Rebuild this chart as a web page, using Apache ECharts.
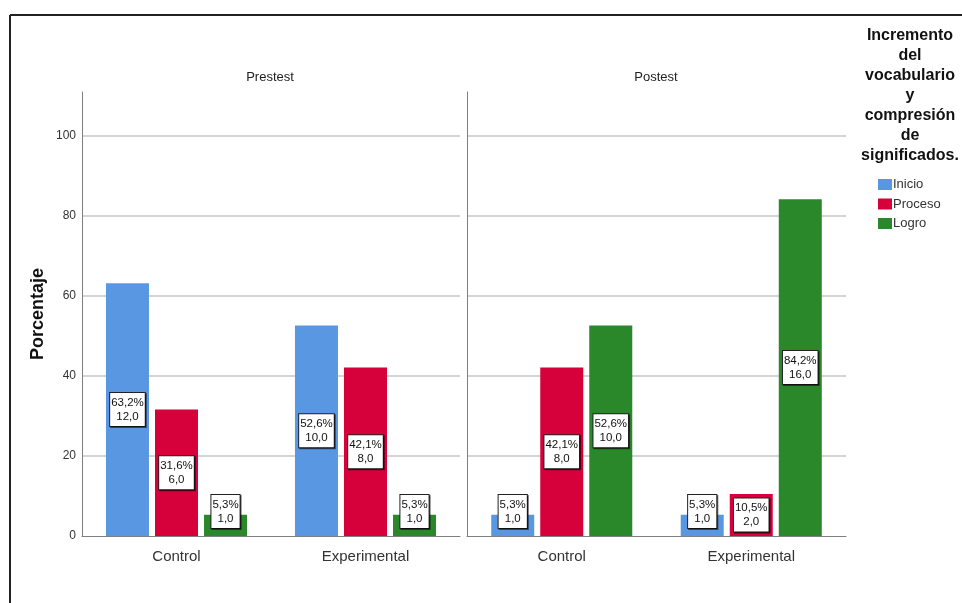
<!DOCTYPE html>
<html>
<head>
<meta charset="utf-8">
<script src="https://cdn.jsdelivr.net/npm/echarts@6/dist/echarts.min.js"></script>
<style>
html,body{margin:0;padding:0;background:#fff;}
#chart{width:962px;height:603px;}
</style>
</head>
<body>
<div id="chart"></div>
<script>
// ---- data ----
const categories = ['Control', 'Experimental'];
const panels = ['Prestest', 'Postest'];
const levels = ['Inicio', 'Proceso', 'Logro'];
const yTicks = [0, 20, 40, 60, 80, 100];

// Percentages
const preInicio = [63.2, 52.6];
const preProceso = [31.6, 42.1];
const preLogro = [5.3, 5.3];
const postInicio = [5.3, 5.3];
const postProceso = [42.1, 10.5];
const postLogro = [52.6, 84.2];

// Counts
const preInicioN = [12, 10];
const preProcesoN = [6, 8];
const preLogroN = [1, 1];
const postInicioN = [1, 1];
const postProcesoN = [8, 2];
const postLogroN = [10, 16];

const legendTitle = 'Incremento\ndel\nvocabulario\ny\ncompresión\nde\nsignificados.';

const colors = ['#5A97E3', '#D6003A', '#2A872A'];
const SANS = "'Liberation Sans',Arial,sans-serif";

function fmt(v) { return v.toFixed(1).replace('.', ','); }

function makeSeries(name, pct, counts, idx, colorIdx) {
  return {
    type: 'bar',
    name: name,
    xAxisIndex: idx,
    yAxisIndex: idx,
    barWidth: 43,
    barGap: '14%',
    itemStyle: { color: colors[colorIdx] },
    data: pct.map(function (v) {
      return { value: v, label: { offset: v < 8 ? [0, -14] : [0, 0] } };
    }),
    label: {
      show: true,
      position: 'inside',
      align: 'center',
      verticalAlign: 'middle',
      fontFamily: SANS,
      fontSize: 11.5,
      lineHeight: 14,
      color: '#111',
      backgroundColor: '#fff',
      borderColor: '#222',
      borderWidth: 1,
      padding: [3, 1, 2, 1],
      shadowColor: 'rgba(0,0,0,0.55)',
      shadowOffsetX: 1,
      shadowOffsetY: 1,
      shadowBlur: 0,
      formatter: function (p) {
        return fmt(pct[p.dataIndex]) + '%\n' + fmt(counts[p.dataIndex]);
      }
    }
  };
}

const chart = echarts.init(document.getElementById('chart'), null, { renderer: 'canvas' });

const xAxisBase = {
  type: 'category',
  data: categories,
  axisTick: { show: false },
  axisLine: { show: true, lineStyle: { color: '#7f7f7f', width: 1 } },
  axisLabel: { fontFamily: SANS, fontSize: 15, color: '#333', margin: 13 },
  splitLine: { show: false }
};
const yAxisBase = {
  type: 'value',
  min: 0,
  max: 111,
  interval: 20,
  axisTick: { show: false },
  axisLine: { show: true, lineStyle: { color: '#7f7f7f', width: 1 } },
  splitLine: { show: true, showMinLine: false, showMaxLine: false, lineStyle: { color: '#d4d4d4', width: 2 } }
};

const option = {
  animation: false,
  backgroundColor: '#fff',
  color: colors,
  grid: [
    { left: 82, top: 92, width: 378, height: 444 },
    { left: 467, top: 92, width: 379, height: 444 }
  ],
  xAxis: [
    Object.assign({}, xAxisBase, { gridIndex: 0 }),
    Object.assign({}, xAxisBase, { gridIndex: 1 })
  ],
  yAxis: [
    Object.assign({}, yAxisBase, {
      gridIndex: 0,
      name: 'Porcentaje',
      nameLocation: 'middle',
      nameGap: 35,
      nameTextStyle: { fontFamily: SANS, fontWeight: 'bold', fontSize: 18, color: '#111' },
      axisLabel: {
        fontFamily: SANS, fontSize: 12, color: '#333', margin: 6,
        showMaxLabel: false,
        formatter: function (v) { return yTicks.indexOf(v) >= 0 ? String(v) : ''; }
      }
    }),
    Object.assign({}, yAxisBase, { gridIndex: 1, axisLabel: { show: false } })
  ],
  legend: {
    orient: 'vertical',
    left: 873,
    top: 173,
    itemWidth: 14,
    itemHeight: 11,
    itemGap: 6.5,
    icon: 'rect',
    data: levels,
    textStyle: { fontFamily: SANS, fontSize: 13, color: '#333', padding: [0, 0, 0, -4] }
  },
  graphic: [
    { type: 'text', x: 270, y: 77, style: { text: panels[0], font: '13px ' + SANS, fill: '#222', align: 'center', verticalAlign: 'middle' } },
    { type: 'text', x: 656, y: 77, style: { text: panels[1], font: '13px ' + SANS, fill: '#222', align: 'center', verticalAlign: 'middle' } },
    { type: 'text', x: 910, y: 26, style: { text: legendTitle, font: 'bold 16px ' + SANS, lineHeight: 20, fill: '#111', align: 'center', verticalAlign: 'top' } },
    { type: 'line', shape: { x1: 10, y1: 15, x2: 962, y2: 15 }, style: { stroke: '#222', lineWidth: 2 } },
    { type: 'line', shape: { x1: 10, y1: 15, x2: 10, y2: 603 }, style: { stroke: '#222', lineWidth: 2 } }
  ],
  series: [
    makeSeries(levels[0], preInicio, preInicioN, 0, 0),
    makeSeries(levels[1], preProceso, preProcesoN, 0, 1),
    makeSeries(levels[2], preLogro, preLogroN, 0, 2),
    makeSeries(levels[0], postInicio, postInicioN, 1, 0),
    makeSeries(levels[1], postProceso, postProcesoN, 1, 1),
    makeSeries(levels[2], postLogro, postLogroN, 1, 2)
  ]
};

chart.setOption(option);
</script>
</body>
</html>
